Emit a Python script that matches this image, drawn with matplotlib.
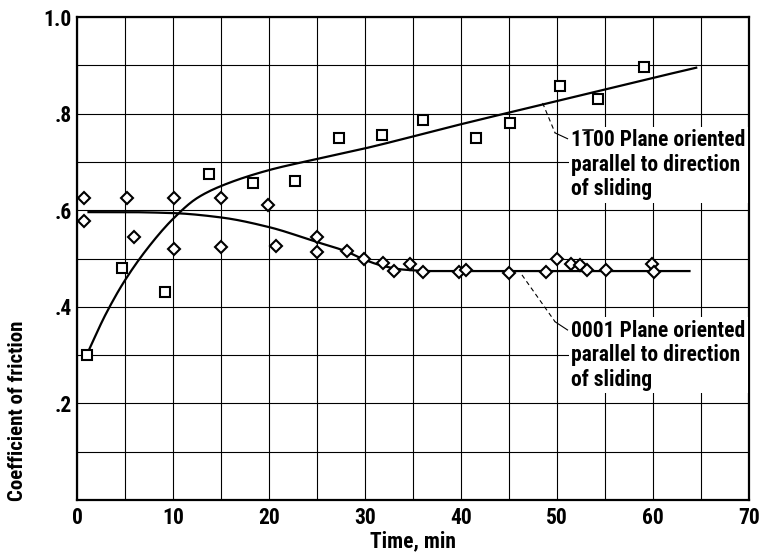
import numpy as np
import matplotlib
matplotlib.use("Agg")
import matplotlib.pyplot as plt
from matplotlib import font_manager
from matplotlib.lines import Line2D

# ---- data ----
sq_time = [1.0, 4.7, 9.2, 13.8, 18.3, 22.7, 27.3, 31.8, 36.0, 41.6, 45.1, 50.3, 54.3, 59.1]
sq_mu = [0.30, 0.48, 0.43, 0.675, 0.656, 0.66, 0.75, 0.756, 0.787, 0.75, 0.78, 0.857, 0.83, 0.897]

di_time = [0.7, 0.7, 5.2, 5.9, 10.1, 10.1, 15.0, 15.0, 19.9, 20.7, 25.0, 25.0, 28.1, 29.9,
           31.9, 33.0, 34.7, 36.0, 39.8, 40.5, 45.0, 48.9, 50.0, 51.5, 52.4, 53.1, 55.1,
           59.9, 60.1]
di_mu = [0.625, 0.578, 0.625, 0.545, 0.625, 0.52, 0.625, 0.524, 0.611, 0.526, 0.545, 0.514,
         0.515, 0.50, 0.49, 0.474, 0.488, 0.472, 0.472, 0.476, 0.47, 0.472, 0.499, 0.489,
         0.487, 0.476, 0.476, 0.489, 0.472]

# faired curves (knots)
c1_time = [1.0, 3.0, 5.0, 7.5, 10.0, 12.5, 15.0, 20.0, 25.0, 30.0, 40.0, 50.0, 60.0, 64.5]
c1_mu = [0.30, 0.385, 0.455, 0.525, 0.582, 0.625, 0.650, 0.683, 0.706, 0.728, 0.778, 0.826, 0.874, 0.895]
c2_time = [1.2, 5.0, 10.0, 15.0, 20.0, 25.0, 28.0, 30.0, 32.0, 34.0, 37.0, 45.0, 55.0, 63.8]
c2_mu = [0.596, 0.596, 0.594, 0.585, 0.565, 0.534, 0.515, 0.497, 0.484, 0.477, 0.474, 0.474, 0.474, 0.474]

x_ticks = [0, 10, 20, 30, 40, 50, 60, 70]
y_ticks = [0.2, 0.4, 0.6, 0.8, 1.0]
y_ticklabels = [".2", ".4", ".6", ".8", "1.0"]

label_1100 = "1100 Plane oriented\nparallel to direction\nof sliding"
label_0001 = "0001 Plane oriented\nparallel to direction\nof sliding"


def pchip(x, y, xs):
    x = np.asarray(x, float); y = np.asarray(y, float)
    h = np.diff(x); d = np.diff(y) / h
    m = np.zeros_like(y)
    for k in range(1, len(x) - 1):
        if d[k - 1] * d[k] <= 0:
            m[k] = 0
        else:
            w1 = 2 * h[k] + h[k - 1]; w2 = h[k] + 2 * h[k - 1]
            m[k] = (w1 + w2) / (w1 / d[k - 1] + w2 / d[k])
    m[0] = d[0]; m[-1] = d[-1]
    idx = np.clip(np.searchsorted(x, xs) - 1, 0, len(h) - 1)
    t = (xs - x[idx]) / h[idx]
    h00 = 2 * t**3 - 3 * t**2 + 1; h10 = t**3 - 2 * t**2 + t
    h01 = -2 * t**3 + 3 * t**2; h11 = t**3 - t**2
    return h00 * y[idx] + h10 * h[idx] * m[idx] + h01 * y[idx + 1] + h11 * h[idx] * m[idx + 1]


avail = {f.name for f in font_manager.fontManager.ttflist}
fam = "DejaVu Sans"
for cand in ["Roboto Condensed", "Liberation Sans Narrow", "Archivo Narrow", "PT Sans Narrow",
             "Open Sans Condensed", "Asap Condensed", "Encode Sans Condensed"]:
    if cand in avail:
        fam = cand
        break
plt.rcParams["font.family"] = [fam, "DejaVu Sans"]
plt.rcParams["font.weight"] = "bold"

FS = 15.5

fig = plt.figure(figsize=(7.59, 5.57), dpi=100)
ax = fig.add_axes([77 / 759, 1 - 500 / 557, 672 / 759, 483 / 557])
ax.set_xlim(0, 70)
ax.set_ylim(0, 1.0)

ax.set_xticks(np.arange(0, 71, 5), minor=True)
ax.set_yticks(np.arange(0, 1.01, 0.1), minor=True)
ax.set_xticks(x_ticks)
ax.set_xticklabels([str(v) for v in x_ticks], fontsize=FS, fontweight="bold")
ax.set_yticks(y_ticks)
ax.set_yticklabels(y_ticklabels, fontsize=FS, fontweight="bold")
ax.grid(True, which="both", color="black", linewidth=0.8)
ax.tick_params(which="both", length=0)
ax.tick_params(axis="y", pad=4)
ax.tick_params(axis="x", pad=5)
for s in ax.spines.values():
    s.set_linewidth(1.6)

xs1 = np.linspace(c1_time[0], c1_time[-1], 300)
ax.plot(xs1, pchip(c1_time, c1_mu, xs1), color="black", lw=1.6, zorder=3)
xs2 = np.linspace(c2_time[0], c2_time[-1], 300)
ax.plot(xs2, pchip(c2_time, c2_mu, xs2), color="black", lw=1.6, zorder=3)

ax.plot(sq_time, sq_mu, ls="none", marker="s", ms=7.5, mfc="white", mec="black", mew=1.5, zorder=4)
ax.plot(di_time, di_mu, ls="none", marker="D", ms=5.8, mfc="white", mec="black", mew=1.5, zorder=4)

# annotations
t1 = ax.text(51.5, 0.694, label_1100, fontsize=FS, fontweight="bold", va="center", ha="left",
             linespacing=1.15, bbox=dict(boxstyle="square,pad=0.1", fc="white", ec="none"), zorder=5)
ax.plot([48.5, 49.8], [0.822, 0.760], color="black", lw=0.8, ls=(0, (4, 3)), zorder=5)
ax.plot([49.8, 51.1], [0.760, 0.748], color="black", lw=0.8, zorder=5)

t2 = ax.text(51.5, 0.30, label_0001, fontsize=FS, fontweight="bold", va="center", ha="left",
             linespacing=1.15, bbox=dict(boxstyle="square,pad=0.1", fc="white", ec="none"), zorder=5)
ax.plot([46.35, 49.8], [0.466, 0.369], color="black", lw=0.8, ls=(0, (4, 3)), zorder=5)
ax.plot([49.8, 51.1], [0.369, 0.352], color="black", lw=0.8, zorder=5)

ax.set_xlabel("Time, min", fontsize=FS, fontweight="bold", labelpad=1)
fig.text(18 / 759, 1 - 411 / 557, "Coefficient of friction", rotation=90, fontsize=15,
         fontweight="bold", ha="center", va="center")

# overbar on the second "1" of the Miller-Bravais index
fig.canvas.draw()
r = fig.canvas.get_renderer()
bb = t1.get_window_extent(r)
fp = t1.get_fontproperties()
w1, _, _ = r.get_text_width_height_descent("1", fp, ismath=False)
w11, _, _ = r.get_text_width_height_descent("11", fp, ismath=False)
x0 = bb.x0 + w1 + 1
x1 = bb.x0 + w11
ytop = bb.y1 - 0.5
W = fig.dpi * fig.get_figwidth()
H = fig.dpi * fig.get_figheight()
fig.add_artist(Line2D([x0 / W, x1 / W], [ytop / H] * 2,
                      transform=fig.transFigure, color="black", lw=1.1, zorder=6))

fig.savefig("out.png", dpi=100)
